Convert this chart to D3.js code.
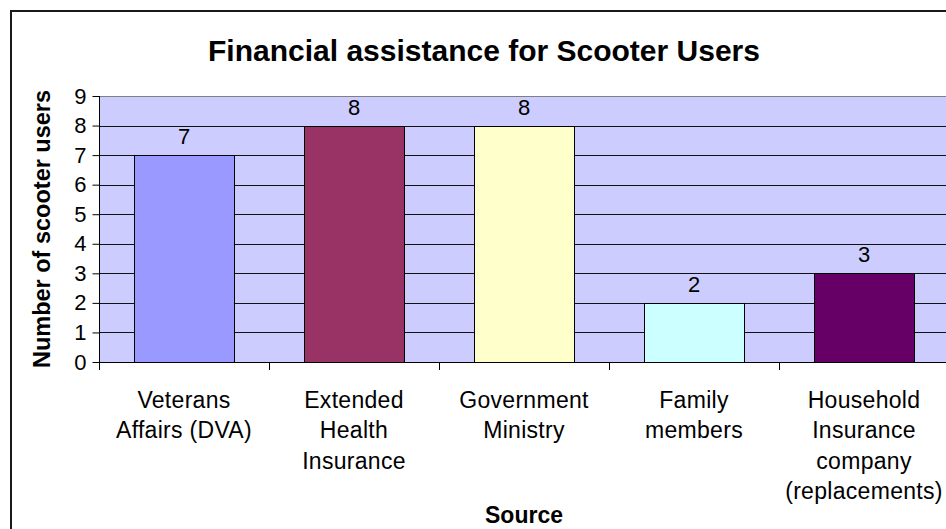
<!DOCTYPE html>
<html>
<head>
<meta charset="utf-8">
<script src="https://cdn.jsdelivr.net/npm/d3@7"></script>
<style>
  html, body { margin: 0; padding: 0; background: #fff; }
  svg { display: block; font-family: "Liberation Sans", Arial, sans-serif; }
</style>
</head>
<body>
<svg id="chart" width="946" height="529"></svg>
<script>
// Sources of financial assistance and number of scooter users for each
const categories = [
  "Veterans\nAffairs (DVA)",
  "Extended\nHealth\nInsurance",
  "Government\nMinistry",
  "Family\nmembers",
  "Household\nInsurance\ncompany\n(replacements)"
];
const users = [7, 8, 8, 2, 3];
const barColors = ["#9999FF", "#993366", "#FFFFCC", "#CCFFFF", "#660066"];
const yTicks = [0, 1, 2, 3, 4, 5, 6, 7, 8, 9];

const titleText = "Financial assistance for Scooter Users";
const yTitleText = "Number of scooter users";
const xTitleText = "Source";

const svg = d3.select("#chart");

// chart frame (runs past the right and bottom edges)
svg.append("rect")
  .attr("x", 11).attr("y", 11)
  .attr("width", 960).attr("height", 540)
  .attr("fill", "#fff")
  .attr("stroke", "#1a1a1a")
  .attr("stroke-width", 2);

const plot = { left: 99, right: 949, top: 96, bottom: 362 };

const x = d3.scaleBand()
  .domain(categories)
  .range([plot.left, plot.right])
  .paddingInner(70 / 170)
  .paddingOuter(35 / 170);

const y = d3.scaleLinear()
  .domain([0, 9])
  .range([plot.bottom, plot.top]);

// plot area background
svg.append("rect")
  .attr("x", plot.left).attr("y", plot.top)
  .attr("width", plot.right - plot.left)
  .attr("height", plot.bottom - plot.top)
  .attr("fill", "#CCCCFF");

// horizontal gridlines
svg.append("g")
  .selectAll("line")
  .data(yTicks.filter(d => d > 0 && d < 9))
  .join("line")
  .attr("x1", plot.left).attr("x2", plot.right)
  .attr("y1", d => Math.round(y(d)) + 0.5)
  .attr("y2", d => Math.round(y(d)) + 0.5)
  .attr("stroke", "#111")
  .attr("stroke-width", 1);

// top edge of the plot area
svg.append("line")
  .attr("x1", plot.left).attr("x2", plot.right)
  .attr("y1", Math.round(y(9)) + 0.5).attr("y2", Math.round(y(9)) + 0.5)
  .attr("stroke", "#808080");

// bars
svg.append("g")
  .selectAll("rect")
  .data(categories)
  .join("rect")
  .attr("x", d => Math.round(x(d)) + 0.5)
  .attr("y", (d, i) => Math.round(y(users[i])) + 0.5)
  .attr("width", Math.round(x.bandwidth()))
  .attr("height", (d, i) => Math.round(y(0)) - Math.round(y(users[i])))
  .attr("fill", (d, i) => barColors[i])
  .attr("stroke", "#000")
  .attr("stroke-width", 1);

// value labels above bars
svg.append("g")
  .selectAll("text")
  .data(categories)
  .join("text")
  .attr("x", d => x(d) + x.bandwidth() / 2)
  .attr("y", (d, i) => y(users[i]) - 11)
  .attr("text-anchor", "middle")
  .attr("font-size", 22)
  .attr("fill", "#000")
  .text((d, i) => users[i]);

// y axis
const yAxis = d3.axisLeft(y)
  .tickValues(yTicks)
  .tickFormat(d3.format("d"))
  .tickSize(7)
  .tickPadding(6);
const yAxisG = svg.append("g")
  .attr("transform", `translate(${plot.left + 0.5},0)`)
  .call(yAxis);
yAxisG.select(".domain").attr("stroke", "#000").attr("d", `M0,${plot.top}V${plot.bottom + 8}`);
yAxisG.selectAll(".tick line").attr("stroke", "#000");
yAxisG.selectAll(".tick text")
  .attr("font-size", 22)
  .attr("font-family", "Liberation Sans, Arial, sans-serif")
  .attr("fill", "#000");

// x axis: ticks at category boundaries
const boundaries = categories.map(c => x(c) - x.step() * x.paddingInner() / 2);
svg.append("line")
  .attr("x1", plot.left).attr("x2", plot.right)
  .attr("y1", plot.bottom + 0.5).attr("y2", plot.bottom + 0.5)
  .attr("stroke", "#000");
svg.append("g")
  .selectAll("line")
  .data(boundaries)
  .join("line")
  .attr("x1", d => Math.round(d) + 0.5).attr("x2", d => Math.round(d) + 0.5)
  .attr("y1", plot.bottom).attr("y2", plot.bottom + 8)
  .attr("stroke", "#000");

// category labels
const catG = svg.append("g")
  .selectAll("text")
  .data(categories)
  .join("text")
  .attr("text-anchor", "middle")
  .attr("font-size", 23)
  .attr("letter-spacing", 0.3)
  .attr("fill", "#000");
catG.selectAll("tspan")
  .data(d => d.split("\n").map(line => ({ line, cat: d })))
  .join("tspan")
  .attr("x", d => x(d.cat) + x.bandwidth() / 2)
  .attr("y", (d, i) => 408 + i * 30.3)
  .text(d => d.line);

// titles
svg.append("text")
  .attr("x", 484).attr("y", 61)
  .attr("text-anchor", "middle")
  .attr("font-size", 30)
  .attr("font-weight", "bold")
  .text(titleText);

svg.append("text")
  .attr("transform", `translate(50,${(plot.top + plot.bottom) / 2}) rotate(-90)`)
  .attr("text-anchor", "middle")
  .attr("font-size", 23.5)
  .attr("font-weight", "bold")
  .text(yTitleText);

svg.append("text")
  .attr("x", (plot.left + plot.right) / 2).attr("y", 523)
  .attr("text-anchor", "middle")
  .attr("font-size", 23)
  .attr("font-weight", "bold")
  .text(xTitleText);
</script>
</body>
</html>
